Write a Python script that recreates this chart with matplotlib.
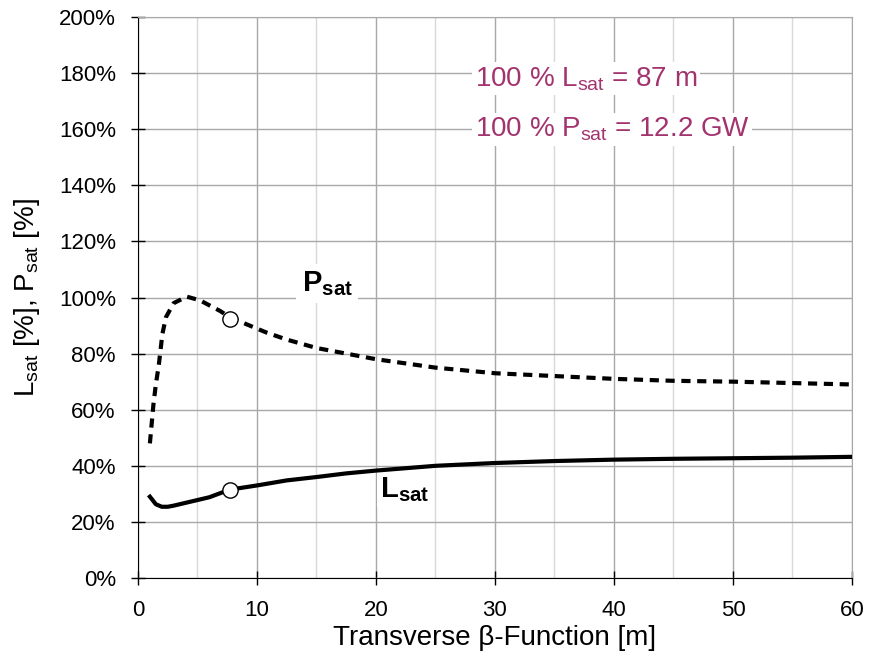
import matplotlib.pyplot as plt
import numpy as np

plt.rcParams['font.family'] = ['Liberation Sans', 'DejaVu Sans']
plt.rcParams['mathtext.fontset'] = 'custom'
plt.rcParams['mathtext.rm'] = 'Liberation Sans'
plt.rcParams['mathtext.bf'] = 'Liberation Sans:bold'

beta_p = [1.0, 1.15, 1.3, 1.5, 1.75, 2.05, 2.35, 3.0, 4.1, 5.2, 6.9, 7.7, 9.1, 10.8, 12.5, 15, 17.5, 20, 25, 30, 35, 40, 45, 50, 55, 60]
p_sat = [48, 55, 62, 69, 76, 87, 93, 98, 100.3, 99, 95.2, 93, 90.5, 87.5, 85, 82, 80, 78, 75, 73, 72, 71, 70.3, 70, 69.5, 69]

beta_l = [1.0, 1.5, 2.0, 2.5, 3.0, 4.0, 5.0, 6.0, 7.7, 10, 12.5, 15, 17.5, 20, 25, 30, 35, 40, 45, 50, 55, 60]
l_sat = [29, 26.3, 25.4, 25.4, 25.8, 26.8, 27.8, 28.8, 31.5, 33, 34.8, 36, 37.3, 38.3, 40, 41, 41.7, 42.2, 42.5, 42.7, 42.9, 43.2]

marker_beta = [7.7, 7.7]
marker_vals = [92.5, 31.5]

fig = plt.figure(figsize=(8.69, 6.66), dpi=100)
ax = fig.add_axes([0.1588, 0.1321, 0.8216, 0.8424])

ax.set_xlim(0, 60)
ax.set_ylim(0, 200)
ax.set_xticks(np.arange(0, 61, 10))
ax.set_xticks(np.arange(5, 60, 10), minor=True)
ax.set_yticks(np.arange(0, 201, 20))
ax.set_yticklabels([f"{v}%" for v in range(0, 201, 20)])
ax.grid(True, which='major', color='#a8a8a8', lw=1)
ax.grid(True, which='minor', axis='x', color='#d8d8d8', lw=1)
ax.set_axisbelow(True)
ax.tick_params(which='major', direction='inout', length=10, width=1, labelsize=16, pad=11)
ax.tick_params(which='minor', length=0)
ax.spines['top'].set_color('#a8a8a8')
ax.spines['right'].set_color('#a8a8a8')

ax.plot(beta_p, p_sat, color='black', lw=3, ls=(0, (2.2, 1.6)), zorder=3)
ax.plot(beta_l, l_sat, color='black', lw=3, zorder=3)
ax.plot(marker_beta, marker_vals, 'o', ms=11, mfc='white', mec='black', mew=1, zorder=4)

ax.text(15.9, 105, r'$\mathbf{P}_{\mathbf{sat}}$', fontsize=21, ha='center', va='center',
        bbox=dict(facecolor='white', edgecolor='none', pad=4), zorder=2)
ax.text(22.4, 31.5, r'$\mathbf{L}_{\mathbf{sat}}$', fontsize=21, ha='center', va='center',
        bbox=dict(facecolor='white', edgecolor='none', pad=2), zorder=2)

red = '#a3336e'
ax.text(28.3, 178, r'100 % L$_{\mathrm{sat}}$ = 87 m', fontsize=20, color=red, va='center',
        bbox=dict(facecolor='white', edgecolor='none', pad=2))
ax.text(28.3, 160, r'100 % P$_{\mathrm{sat}}$ = 12.2 GW', fontsize=20, color=red, va='center',
        bbox=dict(facecolor='white', edgecolor='none', pad=2))

ax.set_xlabel('Transverse β-Function [m]', fontsize=20, labelpad=3)
ax.set_ylabel(r'L$_{\mathrm{sat}}$ [%], P$_{\mathrm{sat}}$ [%]', fontsize=20, labelpad=12)

plt.savefig('out.png', dpi=100)
